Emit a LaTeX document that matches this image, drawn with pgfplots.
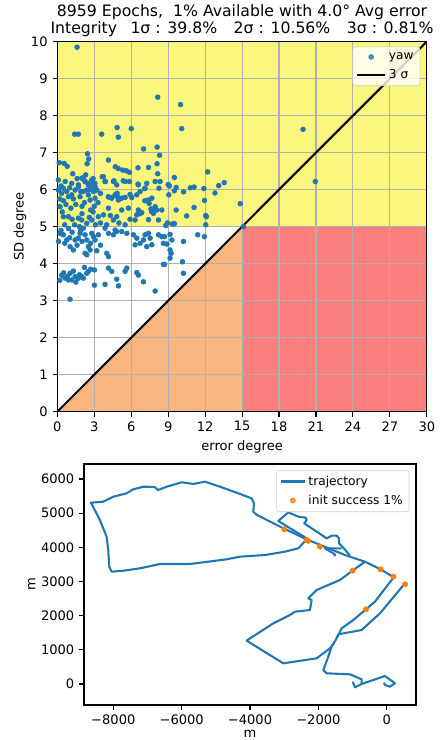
\documentclass[border=0pt]{standalone}
\usepackage{fontspec}
\setmainfont{DejaVu Sans}
\usepackage{pgfplots}
\pgfplotsset{compat=1.18}
\definecolor{c0}{RGB}{31,119,180}
\definecolor{c1}{RGB}{255,127,14}
\definecolor{yel}{RGB}{250,246,125}
\definecolor{ora}{RGB}{250,182,128}
\definecolor{redf}{RGB}{252,127,127}
\definecolor{gridc}{RGB}{176,176,176}
\definecolor{legc}{RGB}{204,204,204}
\newcommand{\tickfont}{\fontsize{9.4}{11}\selectfont}
\newcommand{\legfont}{\fontsize{8.8}{10.5}\selectfont}
\pgfplotsset{
  mpl/.style={
    scale only axis,
    axis line style={black, line width=0.8pt},
    tick style={black, line width=0.8pt},
    major tick length=3.5pt,
    tick align=outside,
    xtick pos=left, ytick pos=left,
    /pgf/number format/assume math mode=true,
    tick label style={font=\tickfont},
    label style={font=\tickfont},
    legend cell align=left,
    legend style={font=\legfont, draw=legc, rounded corners=2pt, fill=white, fill opacity=0.8, text opacity=1, inner xsep=2.5pt, inner ysep=2pt, row sep=1.5pt},
  }
}
\begin{document}
\begin{tikzpicture}
\begin{axis}[mpl,
  set layers,
  at={(41.3pt,236.4pt)}, anchor=south west,
  width=266pt, height=266.4pt,
  xmin=0, xmax=30, ymin=0, ymax=10,
  xtick={0,3,...,30}, ytick={0,1,...,10},
  grid=major, grid style={gridc, line width=0.8pt},
  xlabel={error degree}, ylabel={SD degree},
  ylabel style={yshift=-3.5pt},
  title={8959 Epochs,\ \ 1\% Available with 4.0° Avg error\\Integrity\hspace{0.85em}1σ : 39.8\%\hspace{1.05em}2σ : 10.56\%\hspace{1.05em}3σ : 0.81\%},
  title style={align=center, font=\fontsize{11.3}{10.8}\selectfont, yshift=-5.8pt},
  legend style={at={(1,1)}, anchor=north east, xshift=-4.8pt, yshift=-3.6pt},
  legend image code/.code={\draw[mark repeat=2,mark phase=2,#1] plot coordinates {(0pt,0pt) (10pt,0pt) (20pt,0pt)};},
]
\addplot[draw=none, fill=yel, on layer=axis background, forget plot] coordinates {(0,5) (30,5) (30,10) (0,10) (0,5)};
\addplot[draw=none, fill=ora, on layer=axis background, forget plot] coordinates {(0,0) (15,0) (15,5) (0,0)};
\addplot[draw=none, fill=redf, on layer=axis background, forget plot] coordinates {(15,0) (30,0) (30,5) (15,5) (15,0)};
\addplot[only marks, mark=*, mark size=1.75pt, color=c0] coordinates {
(1.6,9.85) (8.15,8.5) (10.0,8.3) (10.1,7.65) (1.4,7.5) (1.7,7.5) (3.6,7.5)
(4.85,7.68) (4.95,7.42) (6.0,7.65) (7.0,7.1) (8.1,7.15) (8.3,6.93)
(2.45,6.97) (2.55,6.83) (2.42,6.7) (4.15,6.8) (0.15,6.73) (0.55,6.71) (0.8,6.63)
(1.25,6.43) (4.7,6.62) (4.95,6.57) (5.3,6.53) (5.6,6.51) (5.85,6.47)
(6.55,6.59) (7.4,6.6) (8.1,6.7) (8.15,6.43) (9.5,6.33) (12.2,6.48) (3.65,6.35)
(2.1,6.32) (2.25,6.22) (2.5,6.17) (2.7,6.08) (2.9,6.3) (3.05,6.17) (3.9,6.22)
(4.6,6.24) (5.35,6.24) (5.85,6.22) (6.55,6.15) (9.0,6.14) (9.1,6.1) (9.65,6.06)
(10.8,6.05) (11.1,6.07) (11.9,6.03) (13.1,6.11) (13.55,6.19) (12.8,5.91)
(10.25,5.94) (9.5,5.97) (9.05,5.86) (8.25,6.04) (7.1,6.03) (5.9,5.87)
(4.85,5.9) (4.9,5.8) (4.4,5.78) (4.15,5.8) (7.1,5.7) (7.45,5.63) (7.6,5.48) (7.85,5.45) (7.65,5.41)
(9.65,5.45) (10.5,5.29) (11.1,5.52) (11.95,5.71) (12.05,5.3) (12.1,5.27) (12.05,5.05)
(14.85,5.62) (8.95,5.1) (9.5,5.08) (7.4,5.19) (6.7,5.35) (6.85,5.38) (8.8,5.03) (9.35,5.07)
(19.95,7.63) (20.95,6.22) (15.1,5.0)
(0.08,6.26) (0.63,6.22) (1.17,6.17) (1.71,6.13) (1.98,6.31) (2.25,6.22) (2.52,6.13) (2.79,6.26) (2.93,6.17) (3.06,6.08) (3.74,6.35) (3.87,6.22) (4.55,6.22) (4.82,6.13) (5.50,6.22) (6.58,6.13) (7.26,6.17) (7.94,6.22) (8.34,6.22)
(0.08,5.99) (0.35,5.90) (0.49,6.04) (0.76,5.95) (0.90,5.81) (1.17,5.86) (1.44,5.99) (1.71,6.08) (1.84,5.81) (2.11,5.95) (2.39,5.99) (2.52,5.86) (2.66,5.72) (2.93,5.95) (3.06,5.77) (3.20,5.99)
(4.15,5.81) (4.42,5.77) (4.69,5.86) (4.96,5.72) (5.23,5.77) (5.50,5.79) (6.04,5.79) (6.45,5.86) (6.72,5.95) (7.12,6.04) (7.39,5.72) (7.67,5.77) (7.94,5.54) (8.07,5.45) (7.80,5.36) (8.21,5.18) (8.48,5.45)
(0.22,5.54) (0.49,5.27) (0.90,5.27) (1.71,5.23) (1.98,5.18) (2.39,5.09) (2.79,5.18) (3.33,5.27) (3.74,5.32) (4.15,5.50) (4.55,5.18) (4.82,5.27) (5.23,5.45) (5.77,5.50) (6.31,5.18) (6.45,5.32) (6.58,5.45)
(0.3,6.1) (0.5,5.7) (0.7,5.6) (1.0,6.05) (1.1,5.5) (1.3,5.75) (1.5,5.6) (1.6,6.3) (1.9,5.95) (2.0,5.55) (2.2,5.65) (2.3,6.4) (2.6,6.0) (2.7,5.45) (3.0,5.55) (3.3,5.65) (3.5,5.9) (0.2,5.75) (0.4,5.4) (1.2,5.2) (1.4,5.05) (2.0,5.35) (2.6,5.25) (3.1,5.05) (3.5,5.1) (4.0,5.05) (4.3,5.3) (5.0,5.1) (5.5,5.05) (5.9,5.2) (0.6,5.05) (1.8,5.0) (2.9,5.4)
(0.22,4.82) (0.49,4.78) (0.76,4.64) (1.03,4.46) (1.30,4.37) (1.44,4.64) (1.71,4.69) (1.84,4.82) (2.11,4.96) (2.25,4.78) (2.39,4.64) (2.52,4.46) (2.66,4.37) (2.79,4.82) (2.93,4.73) (3.06,4.64) (3.33,4.78) (2.25,4.28) (2.39,4.24) (3.87,4.96) (4.15,4.82) (4.55,4.78) (4.69,4.91) (4.01,4.28) (4.15,4.19) (4.82,4.87) (5.23,4.87) (5.64,4.82) (6.18,4.78) (6.45,4.69) (6.31,4.51) (6.72,4.55) (6.99,4.64) (7.12,4.78) (7.39,4.82) (7.53,4.69) (7.67,4.51) (7.26,4.46) (8.21,4.78) (8.61,4.55) (8.48,4.73)
(8.7,4.73) (9.15,4.79) (9.3,4.64) (8.9,4.53) (9.15,4.37) (9.24,4.28) (9.15,4.15) (8.7,3.98) (10.24,4.6) (11.4,4.78) (11.94,4.73) (10.16,4.05) (10.24,3.74)
(0.3,4.9) (0.6,4.55) (1.0,4.7) (1.2,4.85) (1.6,4.5) (2.0,4.6) (2.7,4.55) (3.5,4.5) (3.2,4.35) (0.1,4.6) (1.9,4.9) (0.9,4.95)
(1.03,3.04) (0.35,3.69) (0.63,3.61) (0.90,3.56) (1.17,3.56) (1.03,3.74) (1.44,3.65) (1.71,3.61) (1.98,3.65) (2.39,3.74) (2.52,3.79) (2.11,3.61) (3.01,3.83) (3.01,3.42) (3.87,3.44) (4.15,3.88) (4.42,3.79) (4.82,3.58) (4.96,3.40) (5.64,3.88) (5.50,3.79) (6.45,3.76) (6.58,3.69) (6.99,3.51) (7.94,3.26) (8.61,3.98)
(0.2,3.55) (0.5,3.75) (1.3,3.8) (1.8,3.7) (2.2,3.9) (0.8,3.65) (2.7,3.85) (1.5,3.5)
};
\addlegendentry{yaw}
\addplot[black, line width=1.5pt] coordinates {(0,0) (30,10)};
\addlegendentry{3 σ}
\end{axis}

\begin{axis}[mpl,
  at={(60.5pt,25.2pt)}, anchor=south west,
  width=239pt, height=173.5pt,
  xmin=-8857, xmax=857, ymin=-615, ymax=6439,
  xtick={-8000,-6000,-4000,-2000,0}, xticklabels={−8000,−6000,−4000,−2000,0},
  ytick={0,1000,2000,3000,4000,5000,6000}, yticklabels={0,1000,2000,3000,4000,5000,6000},
  xlabel={m}, ylabel={m},
  xlabel style={yshift=3pt}, ylabel style={yshift=-2.8pt},
  legend style={at={(1,1)}, anchor=north east, xshift=-4.8pt, yshift=-4.3pt},
  legend image code/.code={\draw[mark repeat=2,mark phase=2,#1] plot coordinates {(0pt,0pt) (8.5pt,0pt) (17pt,0pt)};},
]
\addplot[c0, line width=1.5pt, line join=round] coordinates {
(-2342,4234) (-2586,3971) (-2977,3873) (-3562,3775) (-4294,3727) (-4683,3650) (-5757,3512) (-6636,3512) (-7221,3386) (-7710,3316) (-8049,3287) (-8119,3433) (-8149,3922) (-8196,4312) (-8392,4800) (-8655,5307) (-8295,5336) (-8002,5482) (-7610,5582) (-7417,5699) (-7124,5775) (-6800,5770) (-6685,5678) (-6440,5775) (-6000,5904) (-5661,5855) (-5318,5922) (-4879,5775) (-4390,5600) (-3951,5434) (-3884,5288) (-3904,5044) (-3800,4950) (-3562,4829) (-2977,4536) (-2342,4234) (-1220,3775) (-635,3580) (-196,3366) (214,3122) (145,3044) (-343,2410) (-977,1873) (-1318,1629) (-1465,1337) (-1611,1093) (-1709,800) (-1855,410) (-1757,312) (-1074,283) (-733,136) (-733,0) (-928,-98) (-996,68)
};
\addlegendentry{trajectory}
\addplot[c1, only marks, mark=*, mark size=1.9pt] coordinates {
(-2996,4527) (-2343,4215) (-2300,4190) (-1952,4020) (-996,3318) (-177,3357) (194,3142) (536,2918) (-606,2186)
};
\addlegendentry{init success 1\%}
\addplot[c0, line width=1.5pt, line join=round, forget plot] coordinates {
(536,2946) (291,2654) (-196,2068) (-733,1580) (-1416,1454) (-1465,1337)
};
\addplot[c0, line width=1.5pt, line join=round, forget plot] coordinates {
(-635,3580) (-976,3336) (-1367,3044) (-2050,2752) (-2294,2508) (-2196,2459) (-2245,2166) (-2684,2117) (-2830,2020) (-3318,1776) (-4099,1269) (-3026,605) (-2050,751) (-1660,1044) (-1540,1200)
};
\addplot[c0, line width=1.5pt, line join=round, forget plot] coordinates {
(-733,0) (-50,234) (243,20) (96,-78) (-50,-29) (-79,39)
};
\addplot[c0, line width=1.5pt, line join=round, forget plot] coordinates {
(-2342,4263) (-3172,4771) (-2879,5024) (-2586,4898) (-2372,4868) (-2342,4800) (-2411,4702) (-1757,4263) (-1611,4341) (-1464,4341) (-1396,4263) (-1396,4117) (-1269,3990) (-1074,3756)
};
\addplot[c0, line width=1.5pt, line join=round, forget plot] coordinates {
(-1318,3971) (-1806,3971) (-1513,3795) (-1530,3740)
};
\end{axis}
\pgfresetboundingbox
\useasboundingbox (0,0) rectangle (316.8pt,532.8pt);
\end{tikzpicture}
\end{document}
